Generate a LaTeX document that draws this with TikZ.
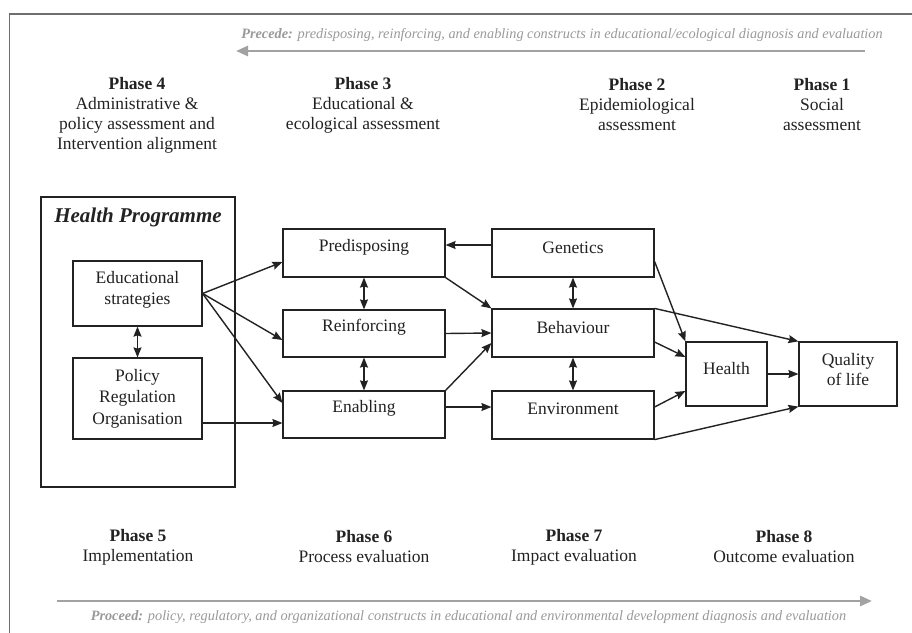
\documentclass[tikz,border=0pt]{standalone}
\usepackage{fontspec}
\setmainfont{Liberation Serif}
\usetikzlibrary{arrows.meta}
\definecolor{notegray}{HTML}{9A9A9A}
\definecolor{flowgray}{HTML}{A2A2A2}
\definecolor{framegray}{HTML}{6E6E6E}
\definecolor{ink}{HTML}{222222}
\begin{document}
\begin{tikzpicture}[x=1pt,y=-1pt,
  font=\fontsize{17.5}{21.5}\selectfont,
  box/.style={draw=ink, line width=1.2pt, inner sep=0pt},
  txt/.style={align=center, inner sep=0pt, text=ink},
  tip/.tip={Stealth[length=10pt,width=8pt,inset=1.2pt]},
  arr/.style={-tip, line width=1.4pt, draw=ink},
  dbl/.style={tip-tip, line width=1.4pt, draw=ink},
  phase/.style={align=center, inner sep=0pt, text=ink, font=\fontsize{17.5}{20}\selectfont},
  note/.style={inner sep=0pt, text=notegray, font=\fontsize{14.3}{16}\selectfont\itshape},
  flow/.style={line width=2.6pt, draw=flowgray, -{Triangle[length=12pt,width=10pt]}}
]
\useasboundingbox (0,0) rectangle (912,632);
\fill[white] (0,0) rectangle (912,632);
% outer frame (continues beyond the picture)
\draw[framegray, line width=1.8pt] (9.5,640) -- (9.5,14) -- (920,14);

% precede
\node[note] (precede) at (562,35) {\textbf{Precede:} predisposing, reinforcing, and enabling constructs in educational/ecological diagnosis and evaluation};
\coordinate (pa) at (865,51);
\coordinate (pb) at (236,51);
\draw[flow] (pa) -- (pb);

% phases top
\node[phase] (ph4) at (137,115) {\textbf{Phase 4}\\Administrative \&\\policy assessment and\\Intervention alignment};
\node[phase] (ph3) at (363,105) {\textbf{Phase 3}\\Educational \&\\ecological assessment};
\node[phase] (ph2) at (637,105) {\textbf{Phase 2}\\Epidemiological\\assessment};
\node[phase] (ph1) at (822,105) {\textbf{Phase 1}\\Social\\assessment};

% health programme
\node[draw=ink, line width=2.2pt, minimum width=194pt, minimum height=290pt, inner sep=0pt] (hp) at (138,342) {};
\node[txt, font=\fontsize{21}{24}\selectfont\bfseries\itshape] (hpt) at (138,217) {Health Programme};

\node[box, minimum width=129pt, minimum height=65pt] (edu) at (137.5,293.5) {};
\node[txt] (eduT) at ([yshift=3.5pt]edu.center) {Educational\\strategies};
\node[box, minimum width=129pt, minimum height=81pt] (pol) at (137.5,398.5) {};
\node[txt] (polT) at (pol.center) {Policy\\Regulation\\Organisation};

\node[box, minimum width=162pt, minimum height=48pt] (pre) at (364,253) {};
\node[txt] (preT) at ([yshift=5.5pt]pre.center) {Predisposing};
\node[box, minimum width=162pt, minimum height=47pt] (rei) at (364,333.5) {};
\node[txt] (reiT) at ([yshift=6pt]rei.center) {Reinforcing};
\node[box, minimum width=162pt, minimum height=47pt] (ena) at (364,414.5) {};
\node[txt] (enaT) at ([yshift=6pt]ena.center) {Enabling};

\node[box, minimum width=162pt, minimum height=48pt] (gen) at (573,253) {};
\node[txt] (genT) at ([yshift=5.5pt]gen.center) {Genetics};
\node[box, minimum width=162pt, minimum height=48pt] (beh) at (573,333) {};
\node[txt] (behT) at ([yshift=5pt]beh.center) {Behaviour};
\node[box, minimum width=162pt, minimum height=48pt] (env) at (573,415) {};
\node[txt] (envT) at ([yshift=6pt]env.center) {Environment};

\node[box, minimum width=81pt, minimum height=64pt] (hea) at (726.5,374) {};
\node[txt] (heaT) at ([yshift=5pt]hea.center) {Health};
\node[box, minimum width=98pt, minimum height=64pt] (qol) at (848,374) {};
\node[txt, font=\fontsize{17.5}{20}\selectfont] (qolT) at ([yshift=4pt]qol.center) {Quality\\of life};

% connectors
\draw[dbl] (edu.south) -- (pol.north);
\draw[arr] (edu.east) -- ([yshift=-9pt]pre.west);
\draw[arr] (edu.east) -- ([yshift=-6.5pt]rei.west);
\draw[arr] (edu.east) -- ([yshift=11.5pt]ena.west);
\draw[arr] ([yshift=-24.5pt]pol.east) -- ([yshift=-8.5pt]ena.west);

\draw[dbl] (pre.south) -- (rei.north);
\draw[dbl] (rei.south) -- (ena.north);
\draw[arr] ([yshift=8pt]gen.west) -- ([yshift=8pt]pre.east);
\draw[arr] (pre.south east) -- (beh.north west);
\draw[arr] (rei.east) -- (beh.west);
\draw[arr] (ena.north east) -- ([yshift=-10pt]beh.west);
\draw[arr] ([yshift=7.5pt]ena.east) -- ([yshift=8pt]env.west);

\draw[dbl] (gen.south) -- (beh.north);
\draw[dbl] (beh.south) -- (env.north);
\draw[arr] ([yshift=-8.5pt]gen.east) -- (hea.north west);
\draw[arr] (beh.north east) -- (qol.north west);
\draw[arr] ([yshift=-9pt]beh.east) -- ([yshift=17pt]hea.west);
\draw[arr] ([yshift=8pt]env.east) -- ([yshift=-17pt]hea.west);
\draw[arr] (hea.east) -- (qol.west);
\draw[arr] (env.south east) -- (qol.south west);

% phases bottom
\node[phase] (ph5) at (138,547) {\textbf{Phase 5}\\Implementation};
\node[phase] (ph6) at (364,547) {\textbf{Phase 6}\\Process evaluation};
\node[phase] (ph7) at (574,547) {\textbf{Phase 7}\\Impact evaluation};
\node[phase] (ph8) at (784,547) {\textbf{Phase 8}\\Outcome evaluation};

% proceed
\coordinate (qa) at (57,601);
\coordinate (qb) at (872,601);
\draw[flow] (qa) -- (qb);
\node[note] (proceed) at (468.5,617) {\textbf{Proceed:} policy, regulatory, and organizational constructs in educational and environmental development diagnosis and evaluation};
\end{tikzpicture}
\end{document}
